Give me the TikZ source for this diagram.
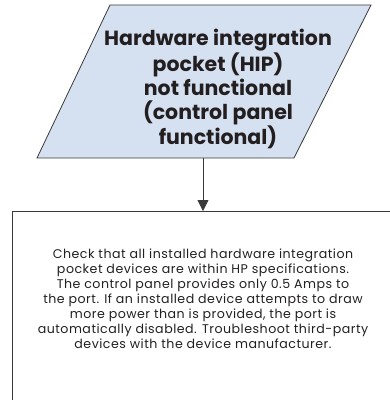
\documentclass[tikz,border=0pt]{standalone}
\usepackage{fontspec}
\setmainfont{Poppins}
\newfontfamily\hipbody[LetterSpace=4]{Poppins}
\usetikzlibrary{arrows.meta,positioning}
\definecolor{hipblue}{HTML}{D5E1F1}
\definecolor{hipline}{HTML}{3A3A3A}
\definecolor{hiptext}{HTML}{231F20}

\begin{document}
\begin{tikzpicture}[x=1pt,y=-1pt,
  edge/.style={hipline, line width=0.8pt},
  head/.style={font=\bfseries\fontsize{20.5}{24}\selectfont, align=center, text=hiptext, inner sep=0pt},
  body/.style={font=\hipbody\fontsize{12.6}{15}\selectfont, align=center, text=hiptext, inner sep=0pt}]
 \useasboundingbox (0,0) rectangle (390,400);
 % parallelogram corners
 \coordinate (tl) at (110,5);
 \coordinate (tr) at (371,5);
 \coordinate (br) at (294,158);
 \coordinate (bl) at (37,158);
 \coordinate (out) at (203,158);
 \fill[hipblue] (tl) -- (tr) -- (br) -- (bl) -- cycle;
 \draw[edge] (tl) -- (tr) -- (br) -- (bl) -- cycle;
 \node[head] (hip) at (218,89) {Hardware integration\\pocket (HIP)\\not functional\\(control panel\\functional)};
 % action box, runs off the page
 \node[draw=hipline, line width=0.8pt, minimum width=382pt, minimum height=240pt, anchor=north] (box) at (203,211) {};
 \node[body] (check) at (203,299) {Check that all installed hardware integration\\pocket devices are within HP specifications.\\The control panel provides only 0.5 Amps to\\the port. If an installed device attempts to draw\\more power than is provided, the port is\\automatically disabled. Troubleshoot third-party\\devices with the device manufacturer.};
 \draw[edge, -{Triangle[length=11pt,width=11pt]}] (out) -- (box.north);
\end{tikzpicture}
\end{document}
